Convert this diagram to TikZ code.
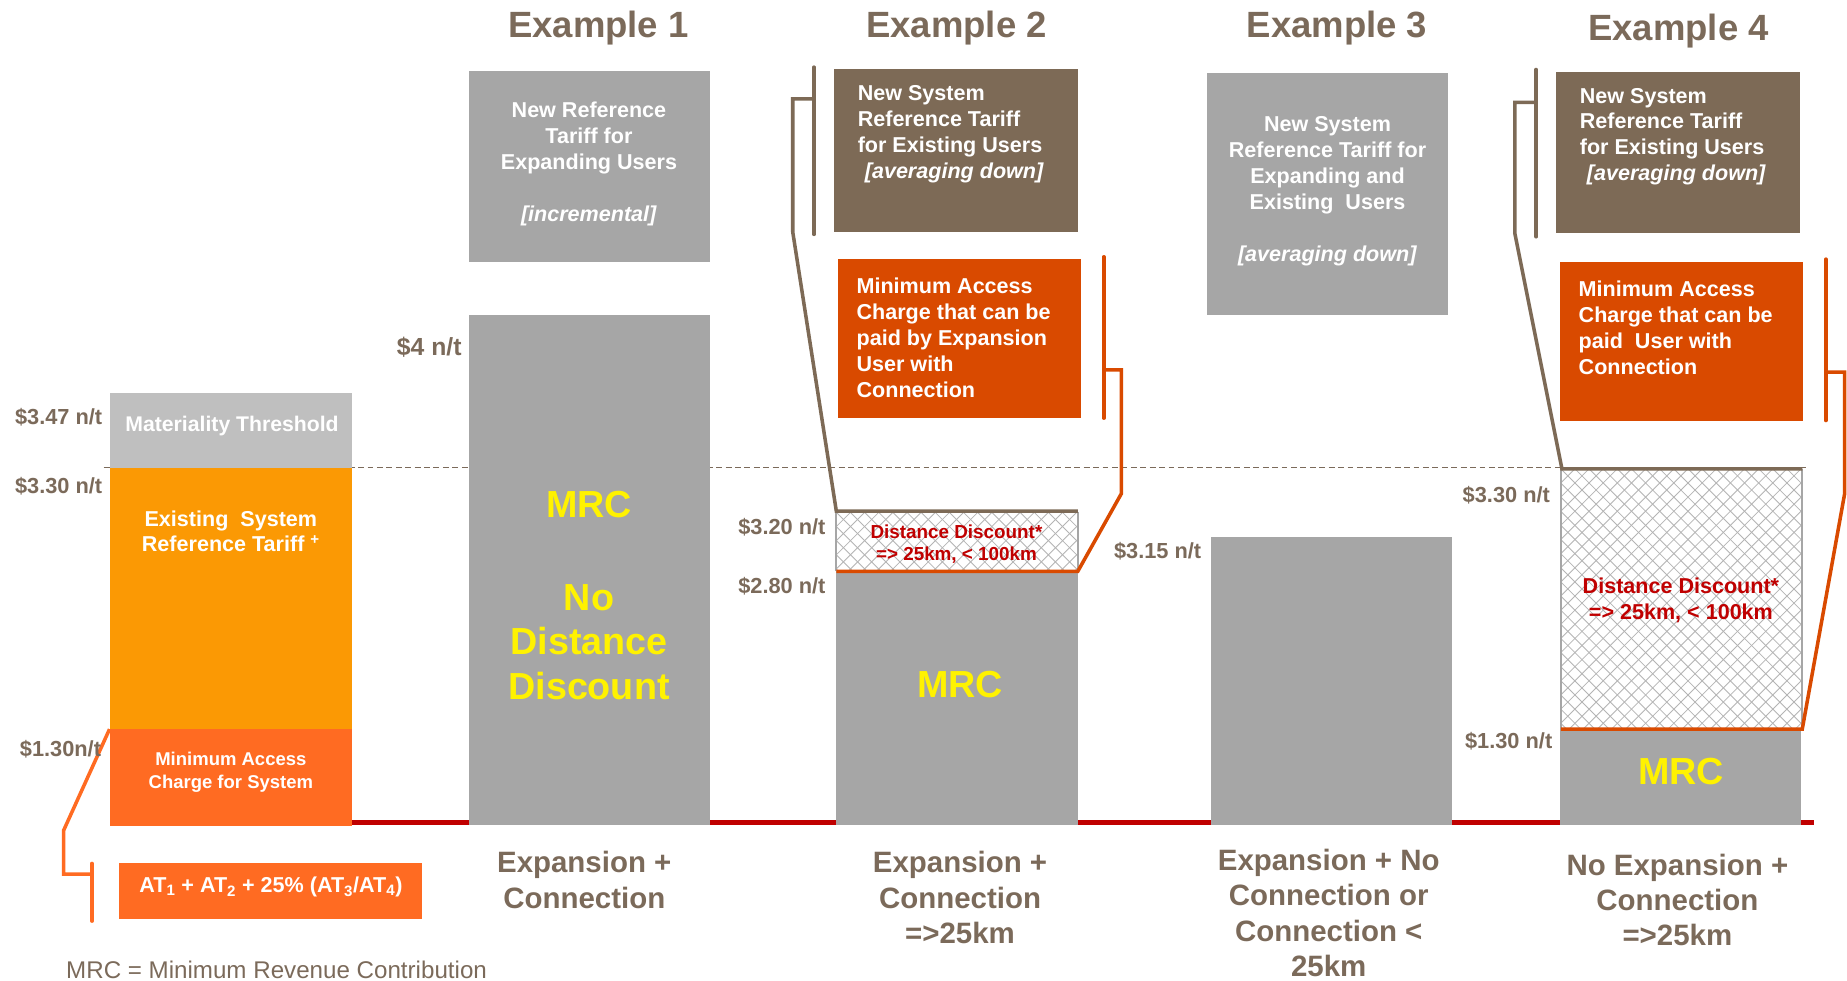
\documentclass[tikz,border=0pt]{standalone}
\usepackage{fontspec}
\setmainfont{Liberation Sans}
\definecolor{tbrown}{HTML}{7B6A5A}
\definecolor{boxbrown}{HTML}{7D6A56}
\definecolor{gbox}{HTML}{A6A6A6}
\definecolor{lgbox}{HTML}{BFBFBF}
\definecolor{orng}{HTML}{FB9904}
\definecolor{orng2}{HTML}{FF6B22}
\definecolor{dorng}{HTML}{D94A00}
\definecolor{dred}{HTML}{C00000}
\definecolor{hatchc}{HTML}{B4B4B4}
\newcommand{\fsz}[2]{\fontsize{#1}{#2}\selectfont}
\begin{document}
\begin{tikzpicture}[x=1pt,y=-1pt,
  titlestyle/.style={font=\bfseries\fsz{31}{36}, text=tbrown, inner sep=0},
  valstyle/.style={font=\bfseries\fsz{18.5}{22}, text=tbrown, inner sep=0, anchor=east},
  boxtxt/.style={font=\bfseries\fsz{18.3}{22}, text=white, inner sep=0},
  mrcstyle/.style={font=\bfseries\fsz{32}{38}, text=yellow, inner sep=0, align=center},
  bottomstyle/.style={font=\bfseries\fsz{25}{30}, text=tbrown, inner sep=0, align=center},
  discstyle/.style={font=\bfseries\fsz{16}{19}, text=dred, inner sep=0, align=center},
  brkbrown/.style={draw=boxbrown, line width=3pt, line cap=round, line join=miter},
  brkorng/.style={draw=dorng, line width=3pt, line cap=round, line join=miter},
  hatchline/.style={draw=hatchc, line width=0.7pt}
]
\useasboundingbox (0,0) rectangle (1568,832);

% dashed level line and red baseline
\draw[tbrown, line width=1.2pt, dash pattern=on 5pt off 3pt] (88,397) -- (1535,397);
\draw[dred, line width=4pt] (299,698) -- (1540,698);

% ---------- left column ----------
\fill[lgbox] (93,334) rectangle (299,397);
\fill[orng] (93,397) rectangle (299,619);
\fill[orng2] (93,619) rectangle (299,701);
\fill[orng2] (101,733) rectangle (358,780);
\draw[draw=orng2, line width=3pt, line cap=round] (78,733) -- (78,782);
\draw[draw=orng2, line width=3pt, line join=miter] (78,742) -- (54,742) -- (54,705) -- (93,619);

\node[valstyle] (v347) at (87,354) {\$3.47 n/t};
\node[valstyle] (v330) at (87,413) {\$3.30 n/t};
\node[valstyle] (v130a) at (86,636) {\$1.30n/t};
\node[boxtxt, font=\bfseries\fsz{18}{21}, text=white] (mat) at (197,362) {Materiality Threshold};
\node[boxtxt, align=center] (exist) at (196,451) {Existing\ \ System\\Reference Tariff \textsuperscript{+}};
\node[boxtxt, align=center, font=\bfseries\fsz{15.7}{19.5}] (minacc) at (196,656) {Minimum Access\\Charge for System};
\node[boxtxt] (formula) at (230,753) {AT\textsubscript{1} + AT\textsubscript{2} + 25\% (AT\textsubscript{3}/AT\textsubscript{4})};
\node[font=\fsz{20.5}{24}, text=tbrown, inner sep=0, anchor=west] (foot) at (56,823) {MRC = Minimum Revenue Contribution};

% ---------- Example 1 ----------
\node[titlestyle] (t1) at (508,24) {Example 1};
\fill[gbox] (398,60) rectangle (603,222);
\fill[gbox] (398,267) rectangle (603,700);
\node[boxtxt, align=center] (b1) at (500,139) {New Reference\\Tariff for\\Expanding Users\\[22pt]\textit{[incremental]}};
\node[valstyle, font=\bfseries\fsz{21}{25}] (v4) at (392,295) {\$4 n/t};
\node[mrcstyle] (mrc1) at (500,428) {MRC};
\node[mrcstyle] (nodd) at (500,545) {No\\Distance\\Discount};
\node[bottomstyle] (lab1) at (496,747) {Expansion +\\Connection};

% ---------- Example 2 ----------
\node[titlestyle] (t2) at (812,24) {Example 2};
\fill[boxbrown] (708,59) rectangle (915,197);
\fill[dorng] (711,220) rectangle (918,355);
\fill[white] (710,435) rectangle (915,485);
\begin{scope}
\clip (710,435) rectangle (915,485);
\foreach \k in {-240,-228,...,480} {
  \draw[hatchline] (710+\k,435) -- ++(250,250);
  \draw[hatchline] (710+\k,435) -- ++(-250,250);
}
\end{scope}
\draw[gbox, line width=1.5pt] (710,435) -- (710,485) (915,435) -- (915,485);
\fill[gbox] (710,485) rectangle (915,700);
\draw[brkbrown] (691,57) -- (691,199);
\draw[brkbrown, line cap=butt] (691,84) -- (673,84) -- (673,197) -- (710,434) -- (915,434);
\draw[brkorng] (937,218) -- (937,355);
\draw[brkorng, line cap=butt] (937,314) -- (952,314) -- (952,419) -- (915,485) -- (710,485);
\node[boxtxt, align=left, anchor=west] (b2) at (728,114) {New System\\Reference Tariff\\for Existing Users\\\hspace*{6pt}\textit{[averaging down]}};
\node[boxtxt, align=left, anchor=west] (m2) at (727,287) {Minimum Access\\Charge that can be\\paid by Expansion\\User with\\Connection};
\node[discstyle] (d2) at (812,462) {Distance Discount*\\=> 25km, < 100km};
\node[valstyle] (v320) at (701,448) {\$3.20 n/t};
\node[valstyle] (v280) at (701,498) {\$2.80 n/t};
\node[mrcstyle] (mrc2) at (815,581) {MRC};
\node[bottomstyle] (lab2) at (815,762) {Expansion +\\Connection\\=>25km};

% ---------- Example 3 ----------
\node[titlestyle] (t3) at (1135,24) {Example 3};
\fill[gbox] (1025,62) rectangle (1229,267);
\fill[gbox] (1028,456) rectangle (1233,700);
\node[boxtxt, align=center] (b3) at (1127,162.5) {New System\\Reference Tariff for\\Expanding and\\Existing\ \ Users\\[22pt]\textit{[averaging down]}};
\node[valstyle] (v315) at (1020,468) {\$3.15 n/t};
\node[bottomstyle] (lab3) at (1128,775) {Expansion + No\\Connection or\\Connection <\\25km};

% ---------- Example 4 ----------
\node[titlestyle] (t4) at (1425,26) {Example 4};
\fill[boxbrown] (1321,61) rectangle (1528,198);
\fill[dorng] (1324,222) rectangle (1531,357);
\fill[white] (1325,398) rectangle (1530,619);
\begin{scope}
\clip (1325,398) rectangle (1530,619);
\foreach \k in {-240,-228,...,480} {
  \draw[hatchline] (1325+\k,398) -- ++(250,250);
  \draw[hatchline] (1325+\k,398) -- ++(-250,250);
}
\end{scope}
\draw[gbox, line width=1.5pt] (1325,398) -- (1325,619) (1530,398) -- (1530,619);
\fill[gbox] (1324,619) rectangle (1529,700);
\draw[brkbrown] (1304,59) -- (1304,201);
\draw[brkbrown, line cap=butt] (1304,87) -- (1286,87) -- (1286,198) -- (1326,398) -- (1530,398);
\draw[brkorng] (1550,220) -- (1550,357);
\draw[brkorng, line cap=butt] (1550,316) -- (1566,316) -- (1566,419) -- (1530,619) -- (1325,619);
\node[boxtxt, align=left, anchor=west] (b4) at (1341,116) {New System\\Reference Tariff\\for Existing Users\\\hspace*{6pt}\textit{[averaging down]}};
\node[boxtxt, align=left, anchor=west] (m4) at (1340,278) {Minimum Access\\Charge that can be\\paid\ \ User with\\Connection};
\node[discstyle, font=\bfseries\fsz{18.3}{22}] (d4) at (1427,510) {Distance Discount*\\=> 25km, < 100km};
\node[valstyle] (v330b) at (1316,420) {\$3.30 n/t};
\node[valstyle] (v130b) at (1318,629) {\$1.30 n/t};
\node[mrcstyle] (mrc4) at (1427,655) {MRC};
\node[bottomstyle] (lab4) at (1424,764) {No Expansion +\\Connection\\=>25km};
\end{tikzpicture}
\end{document}
